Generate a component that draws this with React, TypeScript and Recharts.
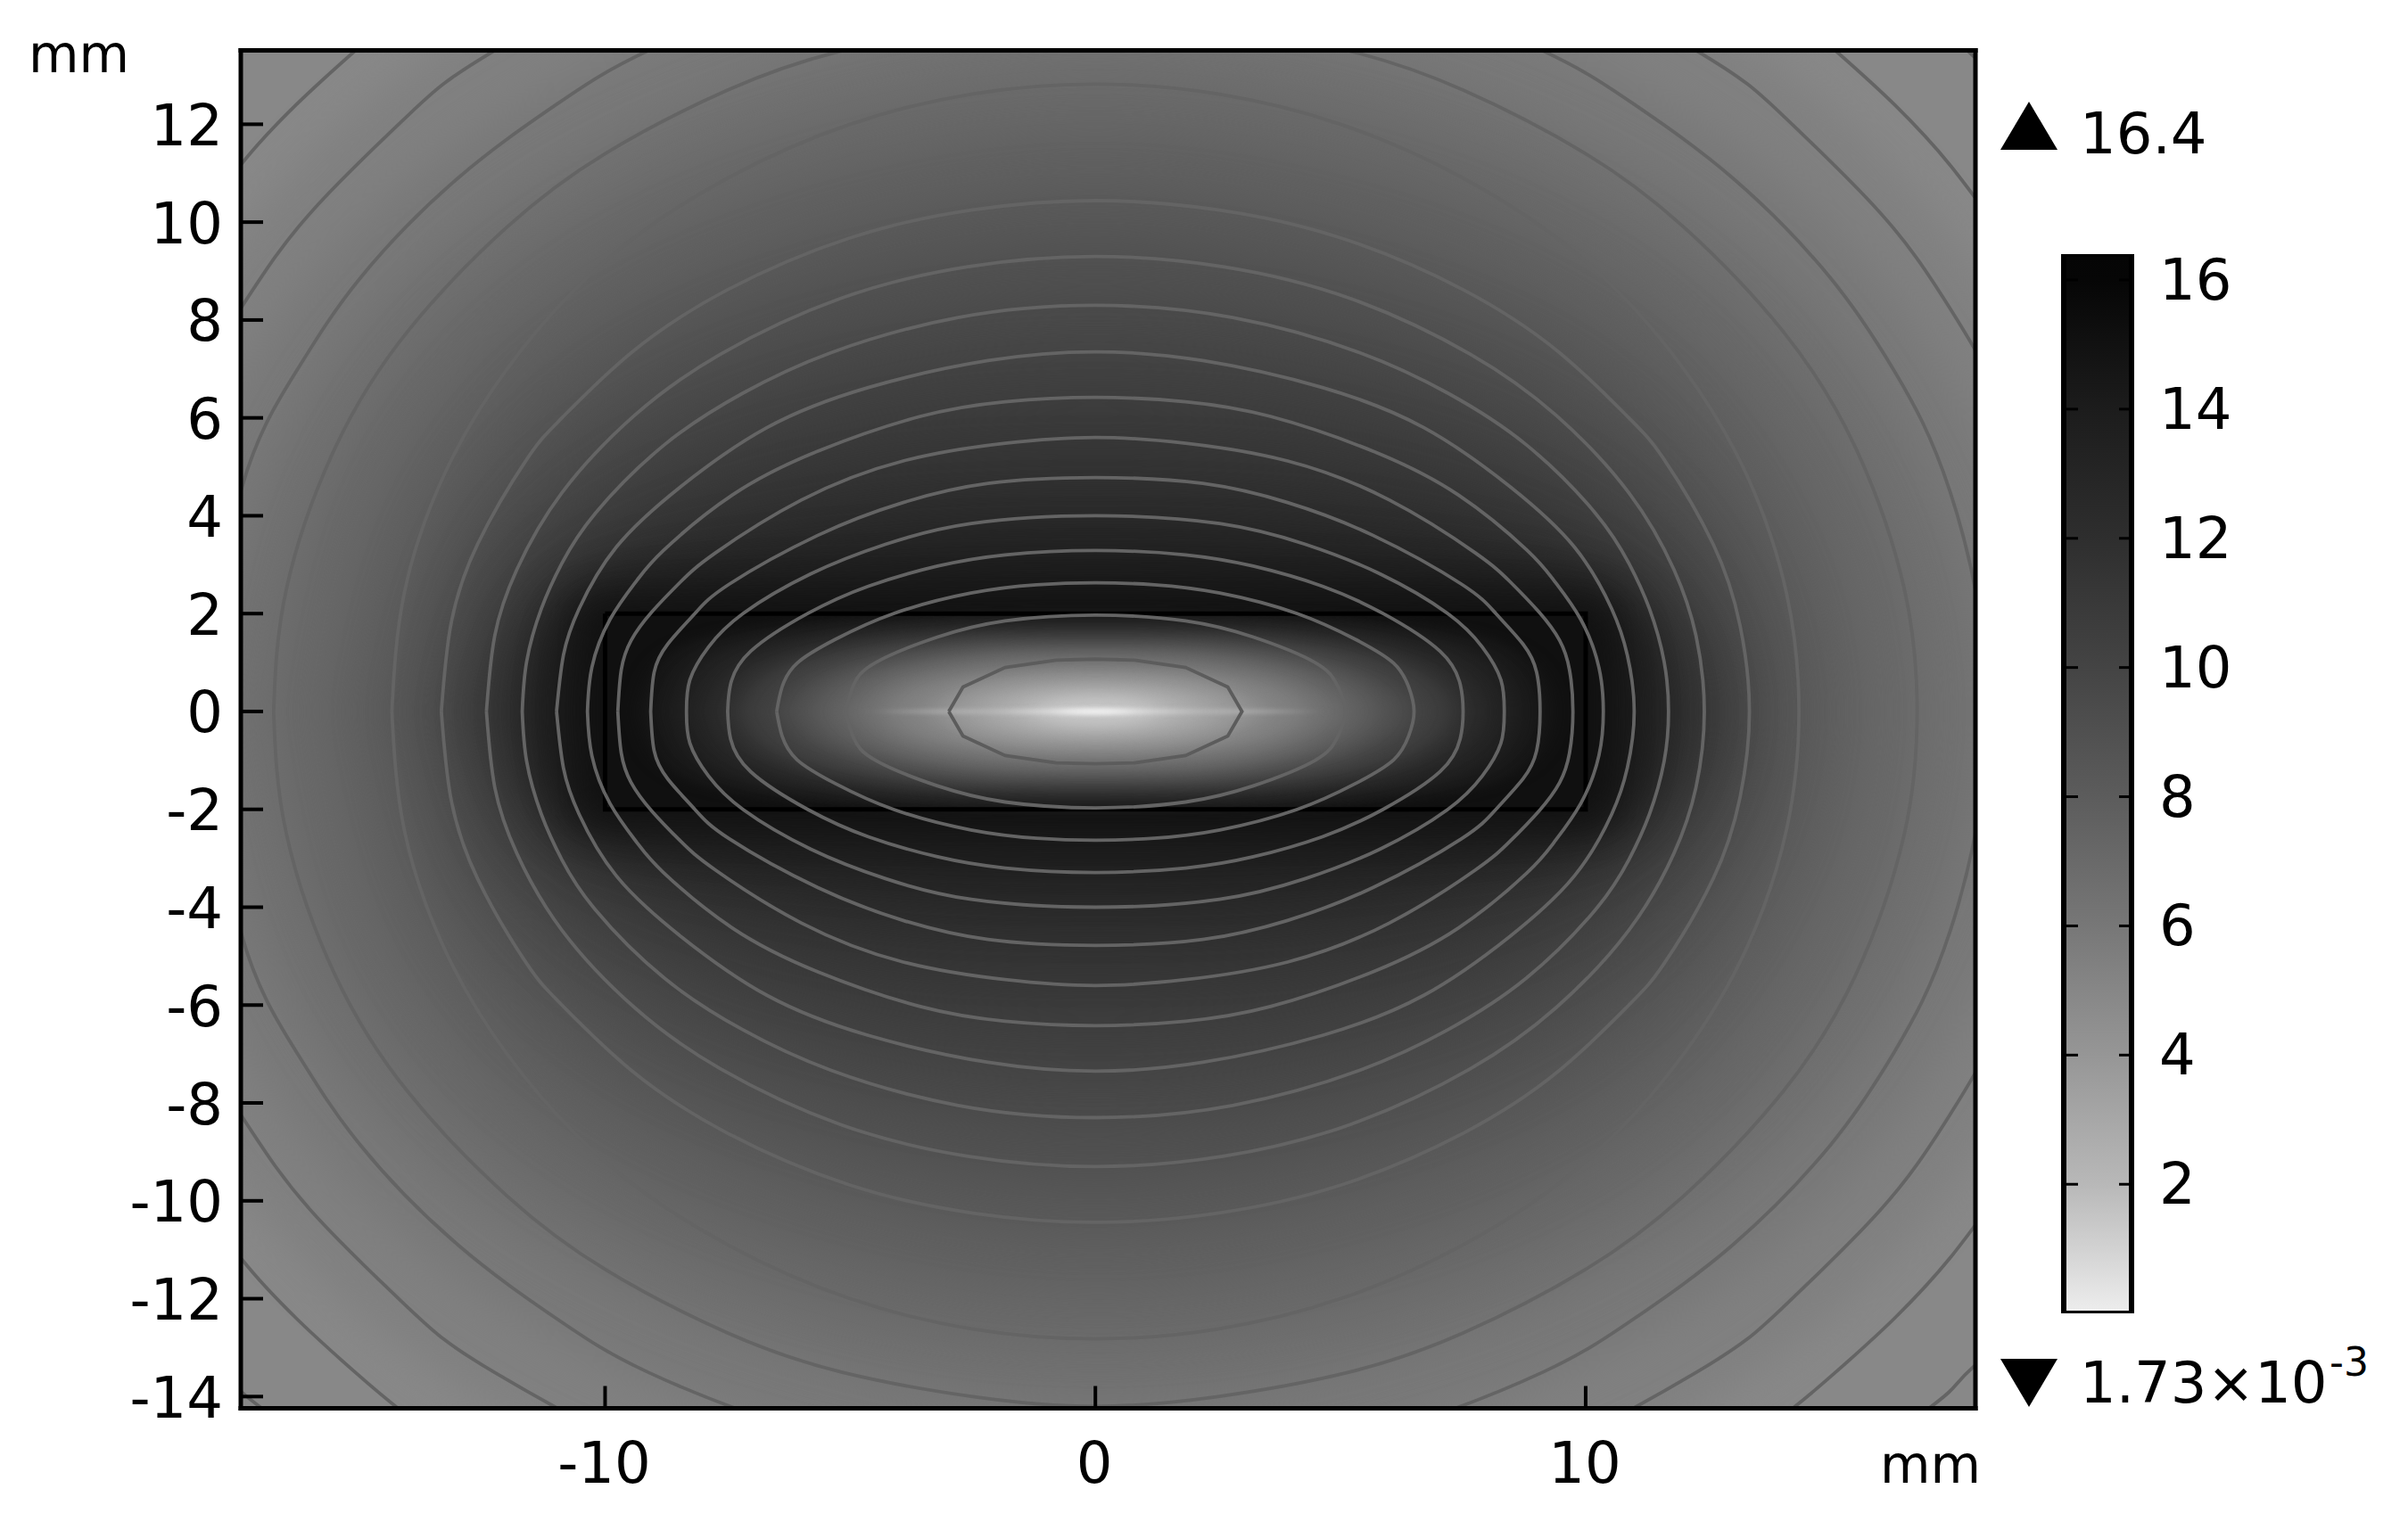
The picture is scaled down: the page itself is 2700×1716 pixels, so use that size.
import { ScatterChart, Scatter, XAxis, YAxis, BarChart, Bar, Curve } from 'recharts';

type Pt = [number, number];

const xTicks = [-10, 0, 10];
const yTicks = [-14, -12, -10, -8, -6, -4, -2, 0, 2, 4, 6, 8, 10, 12];
const barTicks = [2, 4, 6, 8, 10, 12, 14, 16];
const X_DOMAIN: [number, number] = [-17.43, 17.95];
const Y_DOMAIN: [number, number] = [-14.24, 13.51];
const BAR_MIN = 0.00173;
const BAR_MAX = 16.4;

// colorbar shades
const barStopValues = [16.4, 16, 14, 12, 10, 8, 6, 4, 2, 1, 0];
const barStopGrays = [5, 6, 28, 46, 68, 92, 119, 150, 184, 210, 238];

// contour lines, upper left quadrant in mm, outer to inner
const contourZ: Pt[] = [[-24, 0], [-23, 6], [-20.5, 10.8], [-17.9, 13.4], [-17, 14.24], [-13, 16.8], [-7, 19.4], [0, 20.5]];
const contourA: Pt[] = [[-21.64, 0], [-20, 7.2], [-18.5, 9.77], [-17.43, 11.17], [-16.3, 12.4], [-15.09, 13.51], [-12, 15.7], [-6, 18.1], [0, 18.84]];
const contourB: Pt[] = [[-19.9, 0], [-19, 5.1], [-17.43, 8.24], [-16, 10.2], [-14, 12.2], [-12.25, 13.51], [-8, 15.7], [-4, 16.8], [0, 17.15]];
const contourC: Pt[] = [[-18.2, 0], [-17.43, 4.5], [-16.3, 6.95], [-15, 8.85], [-13, 10.9], [-11, 12.4], [-9.13, 13.5], [-6, 14.7], [-3, 15.4], [0, 15.6]];
const contourD: Pt[] = [[-16.76, 0], [-16.5, 2.5], [-15.5, 5.4], [-14, 7.8], [-12, 9.9], [-10, 11.4], [-7.5, 12.7], [-5.18, 13.5], [-2.5, 14], [0, 14.2]];
const contourE: Pt[] = [[-14.35, 0], [-14.1, 2.4], [-13.3, 4.8], [-12, 7], [-10, 9.2], [-7.5, 10.9], [-5, 12], [-2.5, 12.62], [0, 12.82]];
const contourF: Pt[] = [[-13.34, 0], [-13.15, 1.75], [-12.6, 3.42], [-11.6, 5.15], [-10.88, 6], [-9.47, 7.33], [-7.5, 8.62], [-5, 9.68], [-2.5, 10.25], [0, 10.44]];
const contourG: Pt[] = [[-12.42, 0], [-12.25, 1.55], [-11.8, 2.9], [-10.88, 4.47], [-9.4, 6.05], [-7.65, 7.3], [-5.2, 8.44], [-2.6, 9.09], [0, 9.3]];
const contourH: Pt[] = [[-11.69, 0], [-11.6, 1.02], [-11.3, 2.1], [-10.88, 3.03], [-10.2, 4.05], [-8.79, 5.45], [-7.2, 6.5], [-5.4, 7.33], [-2.8, 8.05], [0, 8.3]];
const contourI: Pt[] = [[-10.99, 0], [-10.85, 1.15], [-10.53, 2.1], [-9.77, 3.36], [-8.45, 4.6], [-6.7, 5.8], [-4.63, 6.62], [-2.19, 7.17], [0, 7.35]];
const contourJ: Pt[] = [[-10.36, 0], [-10.27, 0.9], [-9.9, 1.88], [-9.35, 2.68], [-8.8, 3.3], [-7.41, 4.42], [-5.66, 5.32], [-3.57, 6.03], [-1.84, 6.33], [0, 6.42]];
const contourK: Pt[] = [[-9.74, 0], [-9.67, 0.85], [-9.47, 1.45], [-9.05, 2.03], [-8.45, 2.66], [-7.75, 3.24], [-6, 4.32], [-3.92, 5.12], [-1.84, 5.48], [0, 5.6]];
const contourL: Pt[] = [[-9.07, 0], [-9, 0.8], [-8.72, 1.38], [-8.17, 2], [-7.47, 2.6], [-5.66, 3.6], [-3.92, 4.27], [-2.19, 4.66], [0, 4.78]];
const contourM: Pt[] = [[-8.34, 0], [-8.27, 0.65], [-7.89, 1.32], [-7.19, 2], [-5.81, 2.81], [-4.27, 3.42], [-2.53, 3.84], [0, 4]];
const contourN: Pt[] = [[-7.5, 0], [-7.44, 0.56], [-7.03, 1.23], [-5.87, 2], [-4.63, 2.56], [-3.22, 2.97], [-1.84, 3.2], [0, 3.29]];
const contourO: Pt[] = [[-6.5, 0], [-6.39, 0.5], [-6.08, 0.99], [-5.31, 1.47], [-4.12, 2], [-2.54, 2.42], [-1.2, 2.59], [0, 2.63]];
const contourP: Pt[] = [[-5.1, 0], [-4.93, 0.54], [-4.48, 1], [-3.22, 1.52], [-1.84, 1.85], [0, 1.97]];
const contourQ: Pt[] = [[-2.99, 0], [-2.7, 0.5], [-1.84, 0.9], [-0.8, 1.05], [0, 1.07]];

const smoothContours = [contourZ, contourA, contourB, contourC, contourD, contourE, contourF, contourG, contourH, contourI, contourJ, contourK, contourL, contourM, contourN, contourO, contourP];

// surface shade outside the block: [gray, quadrant outline]
const outerLevels: [number, Pt[]][] = [
  [0x80, [[-21, 0], [-19.3, 6.7], [-14.9, 12.4], [-8, 16.1], [0, 17.5]]],
  [0x78, [[-19.5, 0], [-17.9, 5.9], [-13.8, 11], [-7.4, 14.3], [0, 15.5]]],
  [0x70, [[-18, 0], [-16.6, 5.3], [-12.8, 9.9], [-6.8, 12.9], [0, 14]]],
  [0x68, [[-16.8, 0], [-15.5, 4.9], [-11.9, 9.2], [-6.4, 11.9], [0, 12.9]]],
  [0x60, [[-15.6, 0], [-14.4, 4.5], [-11.1, 8.4], [-5.9, 10.9], [0, 11.8]]],
  [0x58, [[-14.7, 0], [-13.5, 4.1], [-10.4, 7.6], [-5.6, 9.8], [0, 10.7]]],
  [0x50, [[-14, 0], [-12.9, 3.6], [-9.9, 6.8], [-5.3, 8.8], [0, 9.6]]],
  [0x48, [[-13.4, 0], [-12.4, 3.2], [-9.5, 6], [-5, 7.8], [0, 8.4]]],
  [0x40, [[-13, 0], [-12, 2.8], [-9.2, 5.2], [-4.9, 6.8], [0, 7.3]]],
  [0x38, [[-12.6, 0], [-11.6, 2.5], [-8.9, 4.5], [-4.8, 5.8], [0, 6.2]]],
  [0x30, [[-12.2, 0], [-11.3, 2.2], [-8.7, 3.8], [-4.7, 4.85], [0, 5.1]]],
  [0x28, [[-11.8, 0], [-11, 2.1], [-8.8, 3.2], [-4.7, 4], [0, 4.2]]],
  [0x20, [[-11.4, 0], [-10.9, 2], [-8.8, 2.85], [-4.6, 3.3], [0, 3.45]]],
  [0x18, [[-11, 0], [-10.7, 1.8], [-9, 2.45], [-4.5, 2.7], [0, 2.8]]],
  [0x10, [[-10.5, 0], [-10.4, 1.8], [-9.5, 2.15], [-4.5, 2.2], [0, 2.2]]],
];

// surface shade inside the block
const innerLevels: [number, Pt[]][] = [
  [0x1a, [[-9.2, 0], [-8.7, 1.1], [-7, 1.7], [-3.6, 2], [0, 2.05]]],
  [0x24, [[-8.5, 0], [-8, 0.95], [-6.3, 1.55], [-3.3, 1.85], [0, 1.9]]],
  [0x30, [[-7.8, 0], [-7.3, 0.8], [-5.7, 1.4], [-3, 1.7], [0, 1.75]]],
  [0x40, [[-7.2, 0], [-6.7, 0.7], [-5.2, 1.25], [-2.8, 1.55], [0, 1.6]]],
  [0x50, [[-6.4, 0], [-5.9, 0.6], [-4.6, 1.1], [-2.5, 1.4], [0, 1.45]]],
  [0x60, [[-5.7, 0], [-5.3, 0.52], [-4.1, 0.97], [-2.2, 1.25], [0, 1.3]]],
  [0x70, [[-5, 0], [-4.6, 0.45], [-3.6, 0.85], [-1.9, 1.1], [0, 1.15]]],
  [0x80, [[-4.3, 0], [-4, 0.37], [-3.1, 0.7], [-1.6, 0.9], [0, 0.95]]],
  [0x90, [[-3.5, 0], [-3.2, 0.3], [-2.5, 0.58], [-1.3, 0.76], [0, 0.8]]],
  [0xa0, [[-2.8, 0], [-2.6, 0.24], [-2, 0.45], [-1.1, 0.58], [0, 0.62]]],
  [0xb0, [[-2.1, 0], [-1.9, 0.18], [-1.45, 0.33], [-0.8, 0.44], [0, 0.47]]],
  [0xc4, [[-1.3, 0], [-1.2, 0.12], [-0.9, 0.21], [-0.5, 0.28], [0, 0.3]]],
];

// thin bright streak on the axis
const streakLevels: [number, Pt[]][] = [
  [0xb4, [[-4.5, 0], [-2.2, 0.05], [0, 0.06]]],
  [0xd4, [[-2, 0], [-1, 0.07], [0, 0.08]]],
  [0xf0, [[-0.9, 0], [-0.45, 0.06], [0, 0.07]]],
];

const backgroundOutline: Pt[] = [[-30, -30], [30, -30], [30, 30], [-30, 30], [-30, -30]];
const blockOutline: Pt[] = [[-10, 2], [10, 2], [10, -2], [-10, -2], [-10, 2]];

const barData = [{ name: 'field', value: BAR_MAX }];

const FONT = 'DejaVu Sans';

// mirror one quadrant into a closed loop
function loop(q: Pt[]) {
  const top = q.slice(0, -1).concat(q.slice().reverse().map(([x, y]) => [-x, y] as Pt));
  const bottom = top.slice(0, -1).reverse().map(([x, y]) => [x, -y] as Pt);
  return top.concat(bottom).map(([x, y]) => ({ x, y }));
}

const rows = (pts: Pt[]) => pts.map(([x, y]) => ({ x, y }));
const gray = (g: number) => `rgb(${g},${g},${g})`;
const NoDot = () => <g />;

// scatter line renderer, keeps the series points and swaps curve type and paint
const curveLine = (type: any, paint: any) => (p: any) => <Curve points={p.points} type={type} {...paint} />;

function YLabel({ y, payload }: any) {
  return (
    <text x={250} y={y + 23.5} textAnchor="end" fontFamily={FONT} fontSize={64} fill="#000">
      {payload.value}
    </text>
  );
}

function XLabel({ x, payload }: any) {
  return (
    <text x={x - 1} y={1663} textAnchor="middle" fontFamily={FONT} fontSize={64} fill="#000">
      {payload.value}
    </text>
  );
}

function BarLabel({ y, payload }: any) {
  return (
    <g>
      <line x1={6} x2={20} y1={y} y2={y} stroke="#000" strokeWidth={3} />
      <line x1={66} x2={80} y1={y} y2={y} stroke="#000" strokeWidth={3} />
      <text x={111} y={y + 22} fontFamily={FONT} fontSize={64} fill="#000">
        {payload.value}
      </text>
    </g>
  );
}

function FieldChart() {
  const axisLine = { stroke: '#000', strokeWidth: 5, strokeLinecap: 'square' as const };
  const tickLine = { stroke: '#000', strokeWidth: 4 };
  // sRGB keeps the dark grays from being quantized by the blur
  const region = { filterUnits: 'userSpaceOnUse' as const, x: 0, y: 0, width: 2700, height: 1716, colorInterpolationFilters: 'sRGB' as const };
  return (
    <ScatterChart width={2700} height={1716} margin={{ top: 0, right: 0, bottom: 0, left: 0 }}>
      <defs>
        <filter id="blurOuter" {...region}>
          <feGaussianBlur stdDeviation="22" />
        </filter>
        <filter id="blurInner" {...region}>
          <feGaussianBlur stdDeviation="14 6" />
        </filter>
        <filter id="blurStreak" {...region}>
          <feGaussianBlur stdDeviation="16 2.5" />
        </filter>
      </defs>

      <Scatter data={rows(backgroundOutline)} shape={NoDot} isAnimationActive={false}
        line={curveLine('linear', { fill: gray(0x88), stroke: 'none' })} />
      {outerLevels.map(([g, q], i) => (
        <Scatter key={`o${i}`} data={loop(q)} shape={NoDot} isAnimationActive={false}
          line={curveLine('natural', { fill: gray(g), stroke: 'none', filter: 'url(#blurOuter)' })} />
      ))}
      <Scatter data={rows(blockOutline)} shape={NoDot} isAnimationActive={false}
        line={curveLine('linear', { fill: gray(0x10), stroke: 'none' })} />
      {innerLevels.map(([g, q], i) => (
        <Scatter key={`i${i}`} data={loop(q)} shape={NoDot} isAnimationActive={false}
          line={curveLine('natural', { fill: gray(g), stroke: 'none', filter: 'url(#blurInner)' })} />
      ))}
      {streakLevels.map(([g, q], i) => (
        <Scatter key={`s${i}`} data={loop(q)} shape={NoDot} isAnimationActive={false}
          line={curveLine('linear', { fill: gray(g), stroke: 'none', filter: 'url(#blurStreak)' })} />
      ))}
      <Scatter data={rows(blockOutline)} shape={NoDot} isAnimationActive={false}
        line={curveLine('linear', { fill: 'none', stroke: '#000', strokeWidth: 5 })} />
      {smoothContours.map((q, i) => (
        <Scatter key={`c${i}`} data={loop(q)} shape={NoDot} isAnimationActive={false}
          line={curveLine('natural', { fill: 'none', stroke: '#646464', strokeWidth: 3.8 })} />
      ))}
      <Scatter data={loop(contourQ)} shape={NoDot} isAnimationActive={false}
        line={curveLine('linear', { fill: 'none', stroke: '#5c5c5c', strokeWidth: 3.8 })} />

      <XAxis zIndex={1100} type="number" dataKey="x" domain={X_DOMAIN} ticks={xTicks} interval={0} allowDataOverflow
        height={136.5} tickSize={-25} tickMargin={50} axisLine={axisLine} tickLine={tickLine} tick={XLabel} />
      <YAxis zIndex={1100} type="number" dataKey="y" domain={Y_DOMAIN} ticks={yTicks} interval={0} allowDataOverflow
        width={270} tickSize={-25} tickMargin={50} axisLine={axisLine} tickLine={tickLine} tick={YLabel} />
      <XAxis zIndex={1100} xAxisId="top" orientation="top" type="number" domain={X_DOMAIN} ticks={xTicks} interval={0} allowDataOverflow
        height={56.5} tickSize={-25} axisLine={axisLine} tickLine={tickLine} tick={false} />
      <YAxis zIndex={1100} yAxisId="right" orientation="right" type="number" domain={Y_DOMAIN} ticks={yTicks} interval={0} allowDataOverflow
        width={485} tickSize={-25} axisLine={axisLine} tickLine={tickLine} tick={false} />
    </ScatterChart>
  );
}

function ColorBar() {
  return (
    <div style={{ position: 'absolute', left: 2310, top: 281 }}>
      <BarChart width={390} height={1196} data={barData} barCategoryGap={0} margin={{ top: 4, right: 0, bottom: 4, left: 4 }}>
        <defs>
          <linearGradient id="barShade" x1="0" y1="0" x2="0" y2="1">
            {barStopValues.map((v, i) => (
              <stop key={v} offset={(BAR_MAX - v) / BAR_MAX} stopColor={gray(barStopGrays[i])} />
            ))}
          </linearGradient>
        </defs>
        <XAxis dataKey="name" hide />
        <YAxis zIndex={1100} orientation="right" type="number" domain={[BAR_MIN, BAR_MAX]} ticks={barTicks} interval={0} allowDataOverflow
          width={310} axisLine={false} tickLine={false} tick={BarLabel} />
        <Bar dataKey="value" fill="url(#barShade)" stroke="#000" strokeWidth={6} isAnimationActive={false} />
      </BarChart>
    </div>
  );
}

export default function App() {
  const text = { fontFamily: FONT, fontSize: 64, fill: '#000' };
  return (
    <div style={{ position: 'absolute', left: 0, top: 0, width: 2700, height: 1716, background: '#fff' }}>
      <FieldChart />
      <ColorBar />
      <svg width={2700} height={1716} style={{ position: 'absolute', left: 0, top: 0, pointerEvents: 'none' }}>
        <text x={32} y={81} fontFamily={FONT} fontSize={58}>mm</text>
        <text x={2108} y={1663} fontFamily={FONT} fontSize={58}>mm</text>
        <polygon points="2243,168 2307,168 2275,114" fill="#000" />
        <text x={2332} y={172} {...text}>16.4</text>
        <polygon points="2243,1524 2307,1524 2275,1578" fill="#000" />
        <text x={2332} y={1573} {...text}>1.73×10</text>
        <text x={2612} y={1543} fontFamily={FONT} fontSize={44}>-3</text>
      </svg>
    </div>
  );
}
